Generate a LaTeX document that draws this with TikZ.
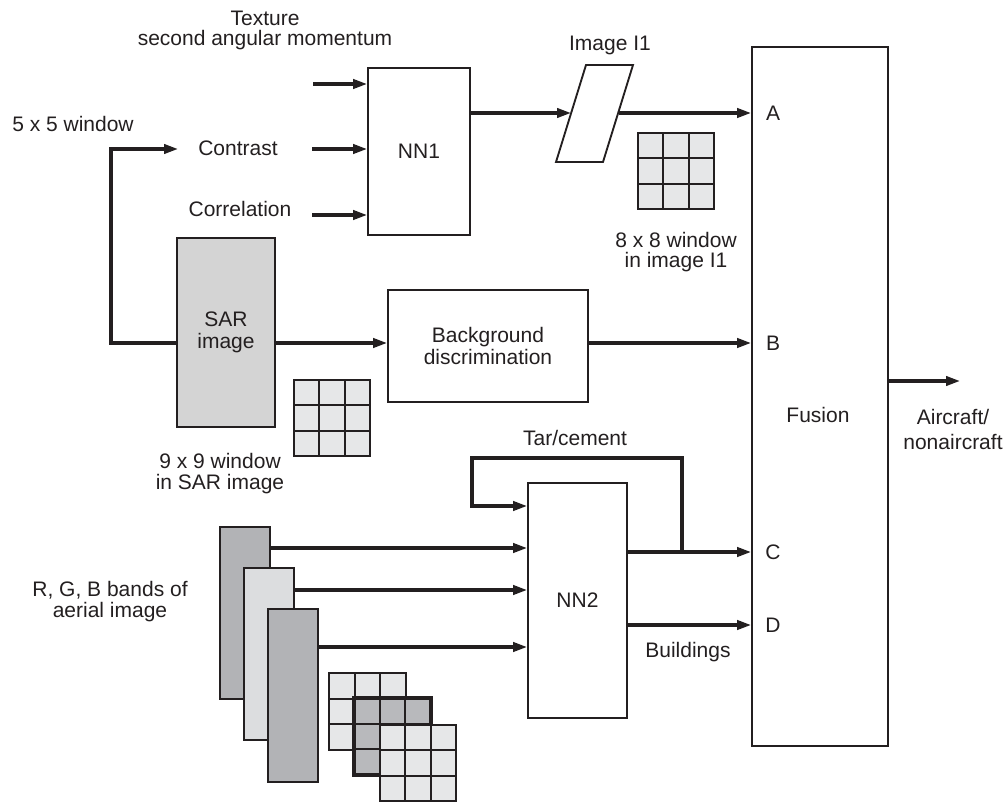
\documentclass[tikz,border=0pt]{standalone}
\usepackage{fontspec}
\setmainfont{Liberation Sans}
\usetikzlibrary{arrows.meta,fit,calc}
\definecolor{sargray}{HTML}{D4D4D4}
\definecolor{celll}{HTML}{E6E7E8}
\definecolor{celld}{HTML}{B8B9BC}
\definecolor{bandd}{HTML}{B2B3B6}
\definecolor{bandl}{HTML}{DCDDDF}
\definecolor{ink}{HTML}{231F20}
\newcommand\cellgrid[4]{%
  \foreach \i in {0,1,2}{\foreach \j in {0,1,2}{%
    \draw[fill=#4, line width=1.4pt, draw=ink] (#1+\i*#3, #2+\j*#3) rectangle ++(#3,#3);}}}
\begin{document}
\begin{tikzpicture}[x=0.75pt,y=-0.75pt,
  box/.style={draw=ink, line width=1.4pt, inner sep=0pt},
  arr/.style={draw=ink, line width=2.3pt, -{Triangle[length=10.5pt,width=7pt]}},
  lbl/.style={font=\fontsize{15.75pt}{16.5pt}\selectfont, text=ink, align=center, inner sep=0pt},
]
\useasboundingbox (0,0) rectangle (1008,803);
% level coordinates
\coordinate (yA) at (0,113);
\coordinate (yB) at (0,343);
\coordinate (yC) at (0,552);
\coordinate (yD) at (0,625);
\coordinate (yO) at (0,381);
% boxes
\node[box, fit={(368,68)(470,235)}] (nn1) {};
\node[lbl] (nn1t) at (nn1.center) {NN1};
\node[box, fill=sargray, fit={(177,238)(275,427)}] (sar) {};
\node[lbl] (sart) at (sar.center) {SAR\\image};
\node[box, fit={(388,290)(588,402)}] (bg) {};
\node[lbl] (bgt) at (bg.center) {Background\\discrimination};
\node[box, fit={(752,47)(888,746)}] (fus) {};
\node[lbl] (fust) at (818,415) {Fusion};
\node[box, fit={(528,483)(627,718)}] (nn2) {};
\node[lbl] (nn2t) at (nn2.center) {NN2};
\node[box, fill=bandd, fit={(220,527)(270,699)}] (b1) {};
\node[box, fill=bandl, fit={(244,568)(294,740)}] (b2) {};
\node[box, fill=bandd, fit={(268,609)(318,782)}] (b3) {};
% parallelogram Image I1
\draw[draw=ink, line width=1.4pt] (556,162) -- (603,162) -- (633,65) -- (586,65) -- cycle;
\coordinate (pL) at (571,113);
\coordinate (pR) at (619,113);
% texts
\node[lbl] (tex1) at (265,18) {Texture};
\node[lbl] (tex2) at (265,40) {second angular momentum};
\node[lbl] (win5) at (73,124) {5 x 5 window};
\node[lbl] (con) at (238,148) {Contrast};
\node[lbl] (cor) at (240,209) {Correlation};
\node[lbl] (img1) at (610,45) {Image I1};
\node[lbl] (win8a) at (676,240) {8 x 8 window};
\node[lbl] (win8b) at (676,262) {in image I1};
\node[lbl] (win9a) at (220,461) {9 x 9 window};
\node[lbl] (win9b) at (220,484) {in SAR image};
\node[lbl] (tar) at (575,438) {Tar/cement};
\node[lbl] (rgb1) at (110,590) {R, G, B bands of};
\node[lbl] (rgb2) at (110,612) {aerial image};
\node[lbl] (bld) at (688,652) {Buildings};
\node[lbl] (lA) at (773,113) {A};
\node[lbl] (lB) at (773,343) {B};
\node[lbl] (lC) at (773,552) {C};
\node[lbl] (lD) at (773,625) {D};
\node[lbl] (out1) at (953,417) {Aircraft/};
\node[lbl] (out2) at (953,442) {nonaircraft};
% grids
\cellgrid{294}{380}{25.3}{celll}
\cellgrid{638}{133}{25.3}{celll}
\cellgrid{329}{673}{25.6}{celll}
\cellgrid{354}{698}{25.6}{celld}
\draw[draw=ink, line width=3pt] (354,698) rectangle (431,775);
\cellgrid{380}{725}{25.3}{celll}
% free ends
\coordinate (i1) at (313,84);
\coordinate (i2) at (312,149);
\coordinate (i3) at (312,215);
\coordinate (cL) at (111,343);
\coordinate (cT) at (111,149);
\coordinate (cE) at (178,149);
\coordinate (tR) at (682,552);
\coordinate (tT) at (682,458);
\coordinate (tL) at (472,458);
\coordinate (tB) at (472,506);
\coordinate (oE) at (960,381);
% connectors
\draw[arr] (i1) -- (nn1.west |- i1);
\draw[arr] (i2) -- (nn1.west |- i2);
\draw[arr] (i3) -- (nn1.west |- i3);
\draw[arr] (sar.west |- yB) -- (cL) -- (cT) -- (cE);
\draw[arr] (nn1.east |- yA) -- (pL);
\draw[arr] (pR) -- (fus.west |- yA);
\draw[arr] (sar.east |- yB) -- (bg.west |- yB);
\draw[arr] (bg.east |- yB) -- (fus.west |- yB);
\draw[arr] (fus.east |- yO) -- (oE);
\draw[arr] (b1.east |- 0,548) -- (nn2.west |- 0,548);
\draw[arr] (b2.east |- 0,590) -- (nn2.west |- 0,590);
\draw[arr] (b3.east |- 0,647) -- (nn2.west |- 0,647);
\draw[arr] (nn2.east |- yC) -- (fus.west |- yC);
\draw[arr] (nn2.east |- yD) -- (fus.west |- yD);
\draw[arr] (tR) -- (tT) -- (tL) -- (tB) -- (nn2.west |- tB);
\end{tikzpicture}
\end{document}
